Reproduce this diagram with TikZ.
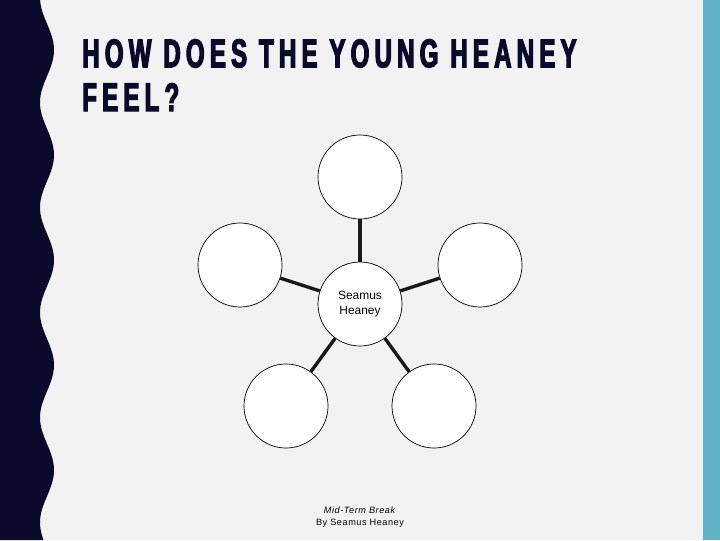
\documentclass[tikz,border=0pt]{standalone}
\usepackage{fontspec}
\setmainfont{Liberation Sans}
\newfontfamily\titlefont[FakeStretch=0.6,FakeBold=3,LetterSpace=13]{Liberation Sans Bold}
\newfontfamily\smallfont[LetterSpace=6]{Liberation Sans}
\definecolor{navy}{HTML}{0B0A2B}
\definecolor{teal}{HTML}{63B1C6}
\definecolor{slidebg}{HTML}{F2F2F2}
\tikzset{
  bubble/.style={circle,draw=black,fill=white,line width=0.5pt,minimum size=2.1cm,inner sep=0pt,align=center,font=\fontsize{8.5}{10.7}\selectfont},
  spoke/.style={line width=2.4pt,black!90}
}
\begin{document}
\begin{tikzpicture}[x=0.025cm,y=-0.025cm]
            \fill[slidebg] (0,0) rectangle (720,540);
            \useasboundingbox (0,0) rectangle (720,540);
            % wavy band on the left, strip on the right
            \fill[navy] (0,0) -- plot[domain=0:540,samples=120,smooth] ({47+7*cos(3.4286*(\x-50))},\x) -- (0,540) -- cycle;
            \fill[white!85!teal] (700,0) rectangle (703,540);
            \fill[teal] (703,0) rectangle (720,540);
            % title
            \node[anchor=north west,inner sep=0pt,text=navy,align=left,font=\titlefont\fontsize{28.5}{31.2}\selectfont] (title) at (82,39) {HOW DOES THE YOUNG HEANEY\\FEEL?};
            % bubbles
            \node[bubble] (heaney) at (360,304) {Seamus\\Heaney};
            \node[bubble] (top) at (360,177) {};
            \node[bubble] (left) at (240,265) {};
            \node[bubble] (right) at (480,265) {};
            \node[bubble] (lowleft) at (286,406) {};
            \node[bubble] (lowright) at (434,406) {};
            \foreach \b in {top,left,right,lowleft,lowright}
              \draw[spoke] (heaney) -- (\b);
            % caption
            \node[align=center,font=\smallfont\fontsize{6.5}{8}\selectfont] (caption) at (360,517) {\textit{Mid-Term Break}\\By Seamus Heaney};
        \end{tikzpicture}
\end{document}
